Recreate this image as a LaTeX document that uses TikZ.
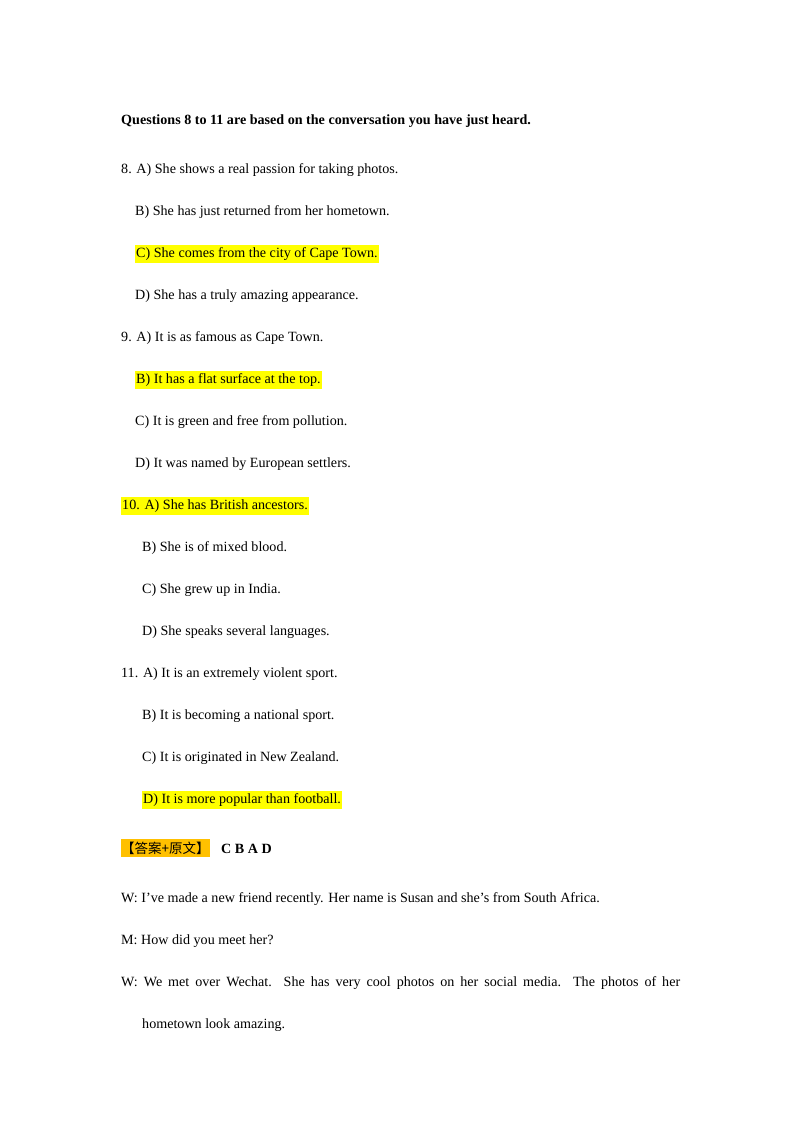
\documentclass[tikz,border=0pt]{standalone}
\usepackage{fontspec}
\setmainfont{Liberation Serif}
\newfontfamily\cjk{Noto Sans CJK SC}
\definecolor{hl}{RGB}{255,255,0}
\definecolor{ans}{RGB}{255,192,0}
\begin{document}
\begin{tikzpicture}[x=1pt,y=-1pt,
  t/.style={anchor=base west,inner sep=0pt,font=\fontsize{14.1}{16}\selectfont},
  h/.style={t,fill=hl,inner xsep=1pt,inner ysep=2.5pt}]
\useasboundingbox (0,0) rectangle (800,1132);
\node[t,font=\fontsize{14.1}{16}\selectfont\bfseries] (q) at (121,124) {Questions 8 to 11 are based on the conversation you have just heard.};
\node[t] (a8) at (121,173) {8. A) She shows a real passion for taking photos.};
\node[t] (b8) at (135,215) {B) She has just returned from her hometown.};
\node[h] (c8) at (135,257) {C) She comes from the city of Cape Town.};
\node[t] (d8) at (135,299) {D) She has a truly amazing appearance.};
\node[t] (a9) at (121,341) {9. A) It is as famous as Cape Town.};
\node[h] (b9) at (135,383) {B) It has a flat surface at the top.};
\node[t] (c9) at (135,425) {C) It is green and free from pollution.};
\node[t] (d9) at (135,467) {D) It was named by European settlers.};
\node[h] (a10) at (121,509) {10. A) She has British ancestors.};
\node[t] (b10) at (142,551) {B) She is of mixed blood.};
\node[t] (c10) at (142,593) {C) She grew up in India.};
\node[t] (d10) at (142,635) {D) She speaks several languages.};
\node[t] (a11) at (121,677) {11. A) It is an extremely violent sport.};
\node[t] (b11) at (142,719) {B) It is becoming a national sport.};
\node[t] (c11) at (142,761) {C) It is originated in New Zealand.};
\node[h] (d11) at (142,803) {D) It is more popular than football.};
\node[h,fill=ans,inner xsep=0pt] (lab) at (121,853) {{\cjk\fontsize{13.5}{16}\selectfont 【答案+原文】}};
\node[t,font=\fontsize{14.1}{16}\selectfont\bfseries] (cbad) at (221,853) {C B A D};
\node[t] (w1) at (121,902) {W: I’ve made a new friend recently. Her name is Susan and she’s from South Africa.};
\node[t] (m1) at (121,944) {M: How did you meet her?};
\node[t] (w2) at (121,986) {\makebox[559pt][s]{W: We met over Wechat. She has very cool photos on her social media. The photos of her}};
\node[t] (w2b) at (142,1028) {hometown look amazing.};
\end{tikzpicture}
\end{document}
